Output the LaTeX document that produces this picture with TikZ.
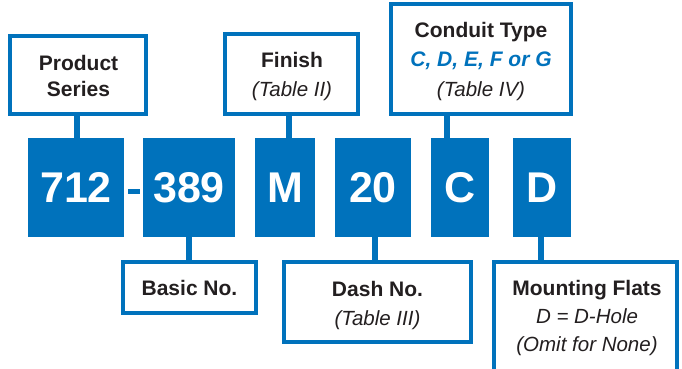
\documentclass[tikz,border=0pt]{standalone}
\usepackage{fontspec}
\setmainfont{Liberation Sans}
\definecolor{cblue}{HTML}{0072BC}
\definecolor{ctext}{HTML}{231F20}
\begin{document}
\begin{tikzpicture}[x=1pt,y=-1pt,
  codebox/.style={fill=cblue, draw=none, inner sep=0pt, text=white,
    font=\fontsize{43}{43}\selectfont\bfseries},
  infobox/.style={draw=cblue, line width=4pt, fill=white, inner sep=0pt},
  conn/.style={draw=cblue, line width=6pt},
  head/.style={font=\fontsize{21}{24}\selectfont\bfseries, text=ctext, anchor=base, inner sep=0pt},
  sub/.style={font=\fontsize{20.5}{24}\selectfont\itshape, text=ctext, anchor=base, inner sep=0pt},
  subblue/.style={font=\fontsize{21}{24}\selectfont\bfseries\itshape, text=cblue, anchor=base, inner sep=0pt}]
\useasboundingbox (0,0) rectangle (682,368);

% code boxes
\node[codebox, minimum width=96pt, minimum height=99pt] (b712) at (76,187.5) {712};
\node[codebox, minimum width=12pt, minimum height=5pt] (dash) at (134,191.5) {};
\node[codebox, minimum width=92pt, minimum height=99pt] (b389) at (189,187.5) {389};
\node[codebox, minimum width=60pt, minimum height=99pt] (bM) at (285,187.5) {M};
\node[codebox, minimum width=76pt, minimum height=99pt] (b20) at (373,187.5) {20};
\node[codebox, minimum width=58pt, minimum height=99pt] (bC) at (460,187.5) {C};
\node[codebox, minimum width=58pt, minimum height=99pt] (bD) at (542,187.5) {D};

% info boxes
\node[infobox, minimum width=135.7pt, minimum height=78pt] (ps) at (78.2,75) {};
\node[infobox, minimum width=133pt, minimum height=80pt] (fin) at (291.5,74) {};
\node[infobox, minimum width=180pt, minimum height=110pt] (cond) at (481,59) {};
\node[infobox, minimum width=133pt, minimum height=51pt] (basic) at (189.5,287.5) {};
\node[infobox, minimum width=187pt, minimum height=80pt] (dashno) at (377.5,302) {};
\node[infobox, minimum width=183pt, minimum height=110pt] (mount) at (585.5,317) {};

% connector positions
\coordinate (x1) at (77,0);
\coordinate (x2) at (289,0);
\coordinate (x3) at (447,0);
\coordinate (x4) at (189,0);
\coordinate (x5) at (375,0);
\coordinate (x6) at (541,0);

\draw[conn] (ps.south -| x1) -- (b712.north -| x1);
\draw[conn] (fin.south -| x2) -- (bM.north -| x2);
\draw[conn] (cond.south -| x3) -- (bC.north -| x3);
\draw[conn] (b389.south -| x4) -- (basic.north -| x4);
\draw[conn] (b20.south -| x5) -- (dashno.north -| x5);
\draw[conn] (bD.south -| x6) -- (mount.north -| x6);

% texts
\node[head] (t1a) at (78.5,70.5) {Product};
\node[head] (t1b) at (78.5,96.5) {Series};
\node[head] (t2a) at (292,67.5) {Finish};
\node[sub]  (t2b) at (292,96) {(Table II)};
\node[head] (t3a) at (481,37) {Conduit Type};
\node[subblue] (t3b) at (481,66.5) {C, D, E, F or G};
\node[sub]  (t3c) at (481,96) {(Table IV)};
\node[head] (t4a) at (189.5,295.5) {Basic No.};
\node[head] (t5a) at (377.5,296) {Dash No.};
\node[sub]  (t5b) at (377.5,325) {(Table III)};
\node[head] (t6a) at (587,295) {Mounting Flats};
\node[sub]  (t6b) at (587,323.5) {D = D-Hole};
\node[sub]  (t6c) at (587,351.5) {(Omit for None)};
\end{tikzpicture}
\end{document}
